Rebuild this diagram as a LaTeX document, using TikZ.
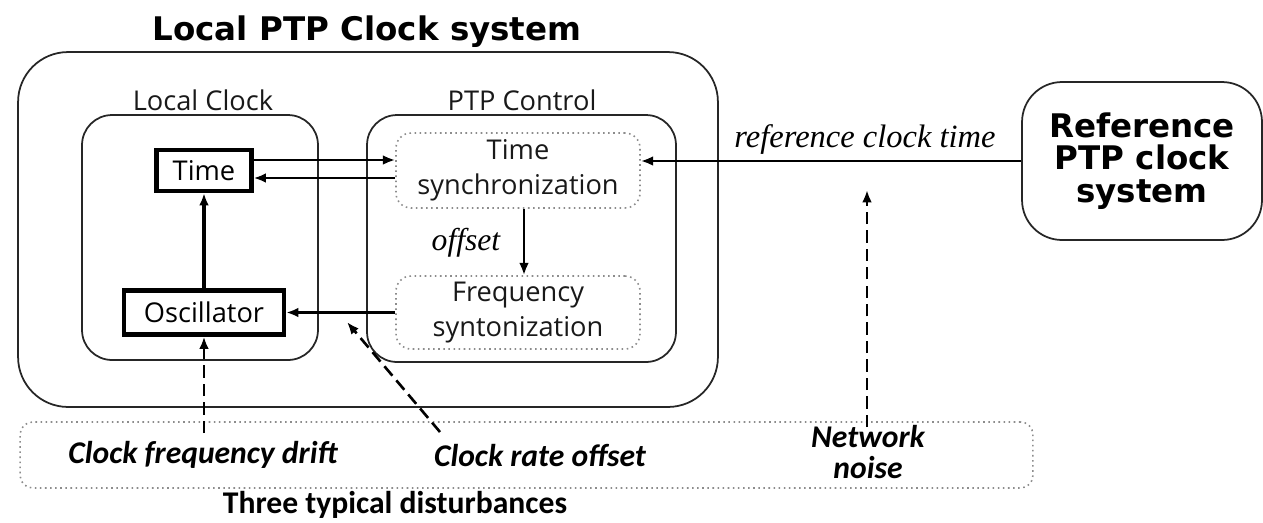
\documentclass[tikz,border=0pt]{standalone}
\usepackage{fontspec}
\usetikzlibrary{arrows.meta,calc}
\newfontfamily\titlef{DejaVu Sans}
\newfontfamily\uif{Open Sans}
\newfontfamily\calf{Carlito}
\newfontfamily\serf{Liberation Serif}
\begin{document}
\begin{tikzpicture}[x=0.02cm,y=-0.02cm,
  boxline/.style={draw=black!85,line width=1pt},
  thickbox/.style={draw=black,line width=2.4pt,inner sep=0pt,font=\uif\fontsize{15.5}{18}\selectfont},
  dotbox/.style={draw=black!45,line width=0.9pt,dotted,rounded corners=0.3cm,inner sep=0pt,align=center,
     text=black!90,font=\uif\fontsize{15.5}{20}\selectfont},
  arr/.style={line width=1.5pt,-{Latex[length=7pt,width=5.5pt]}},
  darr/.style={line width=1.5pt,dash pattern=on 7pt off 3.5pt,-{Latex[length=7pt,width=5.5pt]}},
  lbl/.style={font=\uif\fontsize{15.5}{18}\selectfont,text=black!90,inner sep=0pt},
  dist/.style={font=\calf\bfseries\itshape\fontsize{18}{17.6}\selectfont,align=center,inner sep=0pt},
]
\useasboundingbox (0,0) rectangle (1263,522);
% containers
\node[boxline,rounded corners=1cm,minimum width=14cm,minimum height=7.1cm] (outer) at (368,229.5) {};
\node[boxline,rounded corners=0.6cm,minimum width=4.72cm,minimum height=4.9cm] (lc) at (200,237.5) {};
\node[boxline,rounded corners=0.6cm,minimum width=6.18cm,minimum height=4.94cm] (pc) at (521.5,238.5) {};
\node[boxline,rounded corners=0.8cm,minimum width=4.8cm,minimum height=3.16cm,align=center,
  font=\titlef\bfseries\fontsize{18.5}{18.5}\selectfont] (ref) at (1142,161) {Reference\\PTP clock\\system};
\node[draw=black!45,line width=0.9pt,dotted,rounded corners=0.25cm,minimum width=20.26cm,minimum height=1.32cm] (db) at (526.5,455) {};
% titles
\node[font=\titlef\bfseries\fontsize{18.5}{20}\selectfont,inner sep=0pt] (title) at (367,32) {Local PTP Clock system};
\node[lbl] (lclbl) at (203,100) {Local Clock};
\node[lbl] (pclbl) at (522,100) {PTP Control};
\node[font=\calf\bfseries\fontsize{18}{20}\selectfont,inner sep=0pt] (three) at (395,505) {Three typical disturbances};
% inner blocks
\node[thickbox,minimum width=1.9cm,minimum height=0.82cm] (time) at (204,170.5) {Time};
\node[thickbox,minimum width=3.2cm,minimum height=0.88cm] (osc) at (204,312.5) {Oscillator};
\node[dotbox,minimum width=4.88cm,minimum height=1.5cm] (ts) at (518,170.5) {Time\\synchronization};
\node[dotbox,minimum width=4.88cm,minimum height=1.46cm] (fs) at (518,312.5) {Frequency\\syntonization};
% connectors
\draw[arr] ([yshift=0.21cm]time.east) -- ([yshift=0.21cm]ts.west);
\draw[arr] ([yshift=-0.15cm]ts.west) -- ([yshift=-0.15cm]time.east);
\draw[arr,line width=2.3pt] (osc.north) -- (time.south);
\draw[arr] ([xshift=0.12cm]ts.south) -- ([xshift=0.12cm]fs.north);
\draw[arr] (fs.west) -- (osc.east);
\draw[arr] (ref.west) -- (ts.east |- ref.west);
\node[font=\serf\itshape\fontsize{18}{20}\selectfont,inner sep=0pt] (offl) at (466,243) {offset};
\node[font=\serf\itshape\fontsize{18.5}{20}\selectfont,inner sep=0pt] (refl) at (865,140) {reference clock time};
% disturbances
\node[dist] (cfd) at (203,455) {Clock frequency drift};
\node[dist] (cro) at (540,455) {Clock rate offset};
\node[dist] (nn) at (868,452) {Network\\noise};
\coordinate (cfds) at (204,433);
\coordinate (cros) at (440,432);
\coordinate (croe) at (347,322);
\coordinate (nns) at (867,427);
\coordinate (nne) at (867,190);
\draw[darr] (cfds) -- (osc.south);
\draw[darr] (cros) -- (croe);
\draw[darr] (nns) -- (nne);
\end{tikzpicture}
\end{document}
